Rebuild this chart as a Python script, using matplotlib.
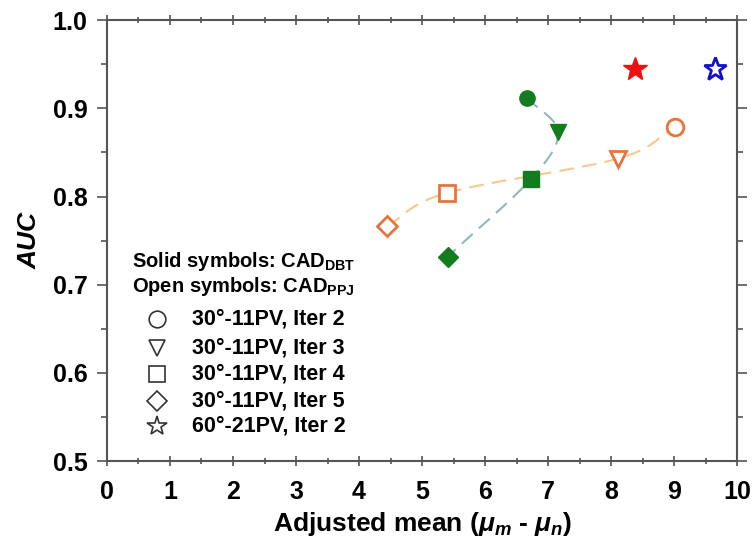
import matplotlib
matplotlib.use("Agg")
import matplotlib.pyplot as plt
import numpy as np

plt.rcParams['font.family'] = ['Liberation Sans', 'DejaVu Sans']
plt.rcParams['font.weight'] = 'bold'
plt.rcParams['mathtext.fontset'] = 'custom'
plt.rcParams['mathtext.rm'] = 'Liberation Sans:bold'
plt.rcParams['mathtext.bf'] = 'Liberation Sans:bold'
plt.rcParams['mathtext.it'] = 'Liberation Sans:italic:bold'

# dane: CAD_DBT (pełne symbole) i CAD_PPJ (puste symbole)
markers = ['o', 'v', 's', 'D']
dbt_x = [6.66, 7.16, 6.73, 5.41]
dbt_y = [0.912, 0.873, 0.820, 0.732]
ppj_x = [9.02, 8.11, 5.39, 4.45]
ppj_y = [0.879, 0.843, 0.804, 0.767]
star_dbt = (8.38, 0.944)
star_ppj = (9.65, 0.944)
legend_labels = ['30°-11PV, Iter 2', '30°-11PV, Iter 3', '30°-11PV, Iter 4',
                 '30°-11PV, Iter 5', '60°-21PV, Iter 2']
legend_markers = ['o', 'v', 's', 'D', '*']


def smooth(xs, ys, n=40):
    "krzywa Catmull-Rom przez punkty (tylko do rysowania linii)"
    p = np.column_stack([xs, ys]).astype(float)
    p = np.vstack([2 * p[0] - p[1], p, 2 * p[-1] - p[-2]])
    out = []
    t = np.linspace(0, 1, n)[:, None]
    for i in range(1, len(p) - 2):
        p0, p1, p2, p3 = p[i - 1], p[i], p[i + 1], p[i + 2]
        seg = 0.5 * ((2 * p1) + (-p0 + p2) * t + (2 * p0 - 5 * p1 + 4 * p2 - p3) * t ** 2
                     + (-p0 + 3 * p1 - 3 * p2 + p3) * t ** 3)
        out.append(seg)
    out = np.vstack(out)
    return out[:, 0], out[:, 1]


fig = plt.figure(figsize=(7.56, 5.57), dpi=100)
ax = fig.add_axes([0.1415, 0.172, 0.8335, 0.792])

# linie
sx, sy = smooth(dbt_x, dbt_y)
ax.plot(sx, sy, '--', color='#8fb8c0', lw=1.5, dashes=(7, 4), zorder=1)
sx, sy = smooth(ppj_x[::-1], ppj_y[::-1])
ax.plot(sx, sy, '--', color='#f5c98f', lw=1.5, dashes=(7, 4), zorder=1)

# punkty
for m, x, y in zip(markers, dbt_x, dbt_y):
    ms = 10 if m == 'D' else 11
    ax.plot(x, y, m, color='#127c1e', ms=ms, zorder=3)
for m, x, y in zip(markers, ppj_x, ppj_y):
    ms = 10 if m == 'D' else 12
    ax.plot(x, y, m, mfc='white', mec='#e8743b', mew=2, ms=ms, zorder=3)
ax.plot(*star_dbt, '*', color='#ee1111', ms=18, zorder=3)
ax.plot(*star_ppj, '*', mfc='white', mec='#1111cc', mew=2, ms=17, zorder=3)

# legenda tekstowa
ax.text(0.039, 0.452, r'Solid symbols: CAD$_{\mathrm{DBT}}$', transform=ax.transAxes,
        fontsize=14.5, fontweight='bold', va='center')
ax.text(0.039, 0.396, r'Open symbols: CAD$_{\mathrm{PPJ}}$', transform=ax.transAxes,
        fontsize=14.5, fontweight='bold', va='center')
rows_y = [0.322, 0.257, 0.198, 0.137, 0.079]
for lab, m, y in zip(legend_labels, legend_markers, rows_y):
    ms = 15 if m == '*' else (10 if m == 'D' else 12)
    ax.plot(0.079, y, m, transform=ax.transAxes, mfc='white', mec='#333333',
            mew=1.2, ms=ms, clip_on=False)
    ax.text(0.135, y, lab, transform=ax.transAxes, fontsize=15.5,
            fontweight='bold', va='center')

# osie
ax.set_xlim(0, 10)
ax.set_ylim(0.5, 1.0)
ax.set_xticks(np.arange(0, 11, 1))
ax.set_xticks(np.arange(0, 10.01, 0.5), minor=True)
ax.set_yticks(np.arange(0.5, 1.01, 0.1))
ax.set_yticks(np.arange(0.5, 1.001, 0.05), minor=True)
ax.set_yticklabels(['%.1f' % v for v in np.arange(0.5, 1.01, 0.1)])
ax.tick_params(axis='both', which='major', labelsize=18, length=7, width=1.2, color='#555555')
ax.tick_params(axis='both', which='minor', length=4, width=1.2, color='#555555')
ax.tick_params(axis='x', which='both', direction='inout', top=True, pad=10)
ax.tick_params(axis='y', which='both', direction='out', right=True, pad=7)
for lab in ax.get_xticklabels() + ax.get_yticklabels():
    lab.set_fontweight('bold')
for s in ax.spines.values():
    s.set_color('#555555')
    s.set_linewidth(1.5)

ax.set_xlabel(r'Adjusted mean ($\mu_m$ - $\mu_n$)', fontsize=19, fontweight='bold', labelpad=4)
ax.set_ylabel('AUC', fontsize=19, fontweight='bold', style='italic', labelpad=8)

fig.savefig('out.png', dpi=100)
